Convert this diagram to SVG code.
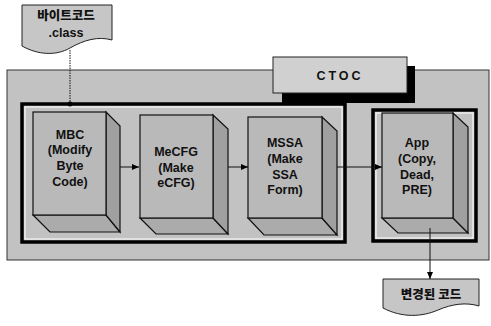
<svg xmlns="http://www.w3.org/2000/svg" width="491" height="326" viewBox="0 0 491 326">
<style>
.lbl{font-family:"Liberation Sans","Noto Sans CJK KR",Arial,sans-serif;font-weight:bold;font-size:12.5px;fill:#111;text-anchor:middle;}
.kr{font-family:"Noto Sans CJK KR","Liberation Sans",sans-serif;font-weight:900;font-size:12.5px;fill:#111;text-anchor:middle;}
.front{fill:#b9b9b9;stroke:#111;stroke-width:1.2;}
.side{fill:#a0a0a0;stroke:#111;stroke-width:1.2;}
.bottom{fill:#ababab;stroke:#111;stroke-width:1.2;}
.frame{fill:none;stroke:#000;stroke-width:3.5;}
.inner{fill:none;stroke:#fff;stroke-width:1;}
.doc{fill:#c6c6c6;stroke:#222;stroke-width:1;}
.conn{fill:none;stroke:#111;stroke-width:1;}
</style>
<defs>
<marker id="ah" markerWidth="8" markerHeight="8" refX="7" refY="4" orient="auto" markerUnits="userSpaceOnUse">
<path d="M0,1 L7,4 L0,7 Z" fill="#000"/>
</marker>
</defs>
<rect width="491" height="326" fill="#fff"/>

<g id="panel">
<rect x="7" y="70" width="482" height="190" fill="#c2c2c2" stroke="#333" stroke-width="1"/>
</g>

<g id="ctoc">
<rect x="282" y="66" width="133" height="37" fill="#000"/>
<rect x="273" y="57" width="134" height="36" fill="#d0d0d0" stroke="#222" stroke-width="1"/>
<text class="lbl" x="340" y="80" style="letter-spacing:3px">CTOC</text>
</g>

<g id="group-main">
<rect class="frame" x="22" y="104" width="323" height="138"/>
<rect class="inner" x="25" y="107" width="317" height="132"/>
</g>
<g id="group-app">
<rect class="frame" x="373" y="110" width="103" height="131"/>
<rect class="inner" x="376" y="113" width="97" height="125"/>
</g>

<g id="bytecode">
<path class="doc" d="M22,5 H112 V40 C98,36 84,40 70,48 C56,56 38,55 22,46 Z"/>
<text class="kr" x="66" y="20">바이트코드</text>
<text class="lbl" x="66" y="37">.class</text>
</g>

<g id="mbc">
<path class="bottom" d="M33,215 L106,215 L120,232 L50,232 Z"/>
<path class="side" d="M106,112 L120,126 L120,232 L106,215 Z"/>
<rect class="front" x="33" y="112" width="73" height="103"/>
<text class="lbl" x="70" y="139">MBC</text>
<text class="lbl" x="70" y="154">(Modify</text>
<text class="lbl" x="70" y="170">Byte</text>
<text class="lbl" x="70" y="186">Code)</text>
</g>

<g id="mecfg">
<path class="bottom" d="M140,218 L213,218 L228,234 L156,234 Z"/>
<path class="side" d="M213,115 L228,129 L228,234 L213,218 Z"/>
<rect class="front" x="140" y="115" width="73" height="103"/>
<text class="lbl" x="176" y="156">MeCFG</text>
<text class="lbl" x="176" y="172">(Make</text>
<text class="lbl" x="176" y="187">eCFG)</text>
</g>

<g id="mssa">
<path class="bottom" d="M248,218 L322,218 L337,235 L264,235 Z"/>
<path class="side" d="M322,117 L337,131 L337,235 L322,218 Z"/>
<rect class="front" x="248" y="117" width="74" height="101"/>
<text class="lbl" x="285" y="147">MSSA</text>
<text class="lbl" x="285" y="163">(Make</text>
<text class="lbl" x="285" y="179">SSA</text>
<text class="lbl" x="285" y="194">Form)</text>
</g>

<g id="app">
<path class="bottom" d="M382,218 L453,218 L468,233 L398,233 Z"/>
<path class="side" d="M453,113 L468,127 L468,233 L453,218 Z"/>
<rect class="front" x="382" y="113" width="71" height="105"/>
<text class="lbl" x="417" y="147">App</text>
<text class="lbl" x="417" y="163">(Copy,</text>
<text class="lbl" x="417" y="179">Dead,</text>
<text class="lbl" x="417" y="194">PRE)</text>
</g>

<g id="changed">
<path class="doc" d="M383,279 H479 V306 C466,302 452,304 438,310 C422,317 402,318 383,308 Z"/>
<text class="kr" x="431" y="299">변경된 코드</text>
</g>

<g id="connectors">
<path class="conn" d="M70,50 V104" stroke-dasharray="1.5,1"/>
<circle cx="70" cy="104" r="2.5" fill="#000"/>
<path class="conn" d="M120,167 H139" marker-end="url(#ah)"/>
<path class="conn" d="M228,167 H248" marker-end="url(#ah)"/>
<path class="conn" d="M337,167 H382" marker-end="url(#ah)"/>
<path class="conn" d="M430,228 V279" marker-end="url(#ah)"/>
</g>
</svg>
